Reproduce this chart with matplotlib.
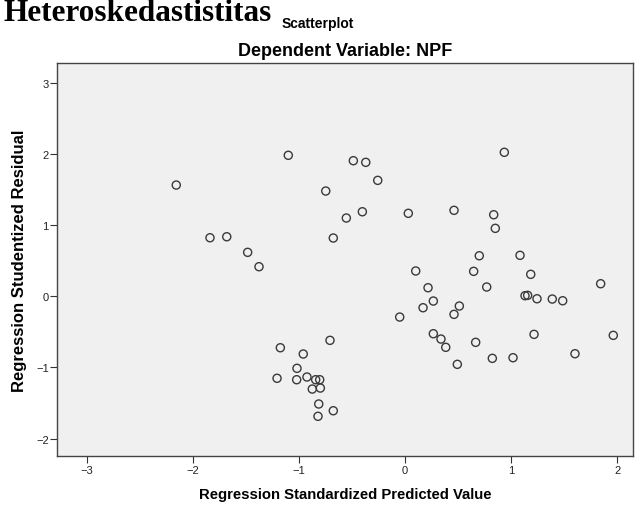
import matplotlib
matplotlib.use("Agg")
import matplotlib.pyplot as plt

# nilai (standardized predicted, studentized residual)
pred = [-1.100, -2.156, -0.747, -0.553, -1.838, -1.680, -0.676, -1.483, -1.376,
        -0.487, -0.370, 0.936, -0.257, -0.402, 0.031, 0.462, 0.836, 0.851,
        0.700, 1.084, 0.101, 0.647, 1.185,
        -0.707, -1.175, -0.959, -1.018, -1.206, -1.021, -0.924, -0.842, -0.804,
        -0.874, -0.798, -0.813, -0.676, -0.820,
        0.217, 0.770, 1.844, 1.131, 1.156, 1.244, 1.388, 1.486, 0.170, 0.267,
        0.512, 0.462, -0.050, 0.267, 0.339, 0.384, 0.666, 1.216, 1.963, 1.602,
        0.823, 1.018, 0.493]
resid = [1.978, 1.560, 1.476, 1.097, 0.820, 0.834, 0.816, 0.615, 0.413,
         1.902, 1.879, 2.020, 1.626, 1.185, 1.163, 1.205, 1.143, 0.952,
         0.567, 0.573, 0.353, 0.348, 0.306,
         -0.621, -0.725, -0.813, -1.014, -1.154, -1.174, -1.136, -1.174, -1.174,
         -1.305, -1.291, -1.515, -1.610, -1.688,
         0.118, 0.128, 0.174, 0.006, 0.011, -0.037, -0.041, -0.065, -0.163, -0.069,
         -0.139, -0.256, -0.294, -0.528, -0.603, -0.719, -0.649, -0.537, -0.551, -0.809,
         -0.874, -0.865, -0.958]
xticks = [-3, -2, -1, 0, 1, 2]
yticks = [-2, -1, 0, 1, 2, 3]

plt.rcParams['font.family'] = ['Liberation Sans', 'DejaVu Sans']

fig = plt.figure(figsize=(6.38, 5.06), dpi=100)
ax = fig.add_axes([0.0895, 0.0962, 0.9027, 0.7767])
ax.set_facecolor('#f0f0f0')

ax.scatter(pred, resid, s=34, facecolors='none', edgecolors='#3a3a3a', linewidths=1.0)

ax.set_xlim(-3.279, 2.149)
ax.set_ylim(-2.250, 3.270)
ax.set_xticks(xticks)
ax.set_yticks(yticks)
ax.tick_params(direction='out', length=5, width=0.8, color='#333333',
               labelsize=8, labelcolor='#222222', pad=1)
for sp in ax.spines.values():
    sp.set_color('#444444')
    sp.set_linewidth(1.0)

ax.set_xlabel('Regression Standardized Predicted Value', fontsize=10.7,
              fontweight='bold', labelpad=9)
fig.text(20 / 638, 0.5 * (0.0962 + 0.8729), 'Regression Studentized Residual',
         rotation=90, ha='center', va='center', fontsize=12, fontweight='bold')

fig.text(0.541, 1 - 56 / 506, 'Dependent Variable: NPF', ha='center',
         va='baseline', fontsize=13, fontweight='bold')
fig.text(4 / 638, 1 - 21 / 506, 'Heteroskedastistitas', ha='left', va='baseline',
         fontsize=22.5, fontweight='bold', family=['Liberation Serif'])
fig.text(282 / 638, 1 - 28 / 506, 'Scatterplot', ha='left', va='baseline',
         fontsize=10, fontweight='bold')

fig.savefig('out.png', dpi=100)
